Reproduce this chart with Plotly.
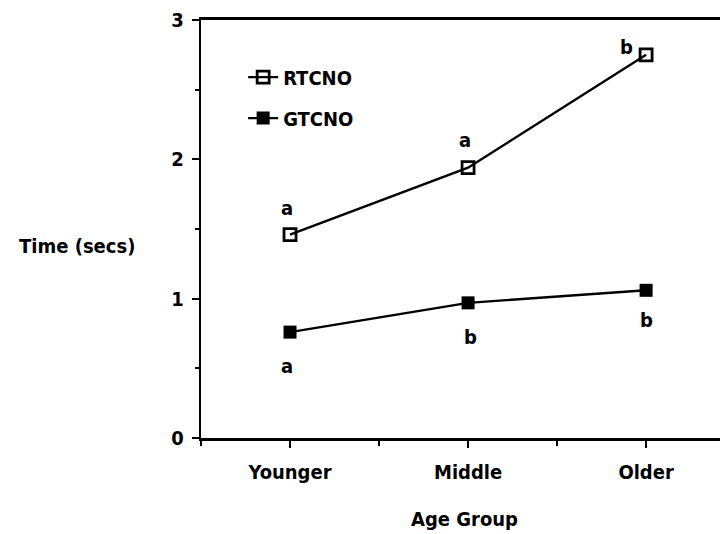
import plotly.graph_objects as go

categories = ["Younger", "Middle", "Older"]
rtcno = [1.46, 1.94, 2.75]
gtcno = [0.76, 0.97, 1.06]
rtcno_labels = ["a", "a", "b"]
gtcno_labels = ["a", "b", "b"]
y_ticks = [0, 1, 2, 3]

FONT = "DejaVu Sans Condensed, DejaVu Sans"
FS = 20
WEIGHT = "bold"
xpos = list(range(len(categories)))

def f(size=FS):
    return dict(family=FONT, size=size, color="black", weight=WEIGHT)

fig = go.Figure()
fig.add_trace(go.Scatter(
    x=xpos, y=rtcno, name="RTCNO", mode="lines+markers", legendgroup="r",
    line=dict(color="black", width=2.4),
    marker=dict(symbol="square-open", size=12, color="black", line=dict(width=2.8, color="black")),
))
fig.add_trace(go.Scatter(
    x=xpos, y=gtcno, name="GTCNO", mode="lines+markers", legendgroup="g",
    line=dict(color="black", width=2.4),
    marker=dict(symbol="square", size=13, color="black"),
))

# significance letters (offsets in pixels from each point)
r_shift = [(-3, 27), (-3, 28), (-20, 8)]
g_shift = [(-3, -34), (2, -34), (0, -30)]
for i, (v, t) in enumerate(zip(rtcno, rtcno_labels)):
    fig.add_annotation(x=i, y=v, text=t, showarrow=False,
                       xshift=r_shift[i][0], yshift=r_shift[i][1], font=f())
for i, (v, t) in enumerate(zip(gtcno, gtcno_labels)):
    fig.add_annotation(x=i, y=v, text=t, showarrow=False,
                       xshift=g_shift[i][0], yshift=g_shift[i][1], font=f())

fig.add_annotation(xref="paper", yref="paper", x=-0.235, y=0.46, text="Time (secs)",
                   showarrow=False, xanchor="center", yanchor="middle", font=f())

fig.update_layout(
    width=720, height=526,
    margin=dict(l=193, r=0, t=12, b=96),
    paper_bgcolor="white", plot_bgcolor="white",
    font=f(),
    showlegend=True,
    legend=dict(x=0.08, y=0.91, xanchor="left", yanchor="top",
                bgcolor="rgba(0,0,0,0)", font=f(),
                itemwidth=30, tracegroupgap=12, traceorder="grouped"),
    xaxis=dict(
        range=[-0.5, 2.46], tickvals=xpos, ticktext=categories,
        showline=True, linecolor="black", linewidth=3, mirror=True,
        ticks="outside", ticklen=7, tickwidth=2, tickcolor="black",
        minor=dict(dtick=0.5, tick0=0, ticks="outside", ticklen=5, tickwidth=2, tickcolor="black"),
        showgrid=False, zeroline=False,
        ticklabelstandoff=7,
        title=dict(text="Age Group", standoff=29, font=f()),
        tickfont=f(),
    ),
    yaxis=dict(
        range=[0, 3], tickvals=y_ticks,
        showline=True, linecolor="black", linewidth=2.4,
        ticks="outside", ticklen=7, tickwidth=2, tickcolor="black",
        minor=dict(dtick=0.5, tick0=0, ticks="outside", ticklen=4, tickwidth=2, tickcolor="black"),
        showgrid=False, zeroline=False,
        ticklabelstandoff=4,
        tickfont=f(),
    ),
)

fig.write_html("out.html")
